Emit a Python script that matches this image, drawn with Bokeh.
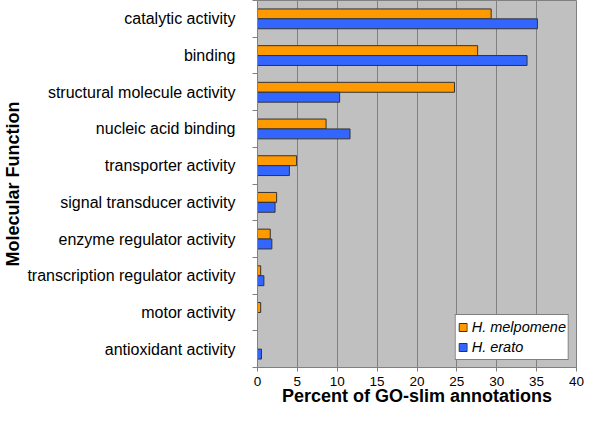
from bokeh.plotting import figure
from bokeh.models import Range1d, FixedTicker, ColumnDataSource, Legend, LegendItem
from bokeh.transform import dodge
from bokeh.embed import file_html
from bokeh.resources import INLINE

categories = [
    "catalytic activity",
    "binding",
    "structural molecule activity",
    "nucleic acid binding",
    "transporter activity",
    "signal transducer activity",
    "enzyme regulator activity",
    "transcription regulator activity",
    "motor activity",
    "antioxidant activity",
]
melpomene = [29.3, 27.6, 24.7, 8.6, 4.9, 2.4, 1.6, 0.4, 0.4, 0.0]
erato = [35.1, 33.8, 10.3, 11.6, 4.0, 2.2, 1.8, 0.8, 0.0, 0.5]
x_ticks = [0, 5, 10, 15, 20, 25, 30, 35, 40]
series_names = ["H. melpomene", "H. erato"]
series_colors = ["#FF9900", "#3366FF"]
x_title = "Percent of GO-slim annotations"
y_title = "Molecular Function"

FONT = "Liberation Sans"
n = len(categories)
pos = [i + 0.5 for i in range(n)]

src = ColumnDataSource(dict(pos=pos, cat=categories, mel=melpomene, era=erato))

p = figure(width=584, height=409,
           x_range=Range1d(0, 40), y_range=Range1d(n, 0),
           output_backend="svg", toolbar_location=None,
           min_border_left=249, min_border_right=8,
           min_border_top=0, min_border_bottom=42)

p.background_fill_color = "#C0C0C0"
p.border_fill_color = "white"
p.outline_line_color = "#808080"

bar_h = 0.27
r1 = p.hbar(y=dodge("pos", -bar_h / 2, range=p.y_range), right="mel", left=0, height=bar_h,
            source=src, fill_color=series_colors[0], line_color="#333333", line_width=1)
r2 = p.hbar(y=dodge("pos", bar_h / 2, range=p.y_range), right="era", left=0, height=bar_h,
            source=src, fill_color=series_colors[1], line_color="#333333", line_width=1)

# x axis
xa = p.xaxis[0]
xa.ticker = FixedTicker(ticks=x_ticks)
xa.axis_line_color = "#808080"
xa.major_tick_line_color = "#808080"
xa.major_tick_out = 4
xa.major_tick_in = 0
xa.minor_tick_line_color = None
xa.major_label_text_font = FONT
xa.major_label_text_font_size = "13.5px"
xa.major_label_text_color = "black"
xa.major_label_standoff = 5
xa.axis_label = x_title
xa.axis_label_text_font = FONT
xa.axis_label_text_font_size = "18px"
xa.axis_label_text_font_style = "bold"
xa.axis_label_text_color = "black"
xa.axis_label_standoff = -3

# y axis
ya = p.yaxis[0]
ya.ticker = FixedTicker(ticks=pos, minor_ticks=list(range(n + 1)))
ya.major_label_overrides = {pv: c for pv, c in zip(pos, categories)}
ya.axis_line_color = "#808080"
ya.major_tick_line_color = None
ya.major_tick_out = 0
ya.major_tick_in = 0
ya.minor_tick_line_color = "#808080"
ya.minor_tick_out = 5
ya.minor_tick_in = 0
ya.major_label_text_font = FONT
ya.major_label_text_font_size = "16px"
ya.major_label_text_color = "black"
ya.major_label_standoff = 17
ya.axis_label = y_title
ya.axis_label_text_font = FONT
ya.axis_label_text_font_size = "18px"
ya.axis_label_text_font_style = "bold"
ya.axis_label_text_color = "black"
ya.axis_label_standoff = 1

p.xgrid.grid_line_color = "#808080"
p.ygrid.grid_line_color = None

legend = Legend(items=[LegendItem(label=series_names[0], renderers=[r1]),
                       LegendItem(label=series_names[1], renderers=[r2])],
                location="bottom_right")
legend.label_text_font = FONT
legend.label_text_font_size = "14.5px"
legend.label_text_font_style = "italic"
legend.label_text_color = "black"
legend.glyph_width = 10
legend.glyph_height = 10
legend.label_standoff = 4
legend.label_height = 20
legend.spacing = 0
legend.padding = 2
legend.margin = 7
legend.border_line_color = "black"
legend.border_line_width = 1
legend.background_fill_color = "white"
legend.background_fill_alpha = 1.0
p.add_layout(legend, "center")

open("out.html", "w").write(file_html(p, INLINE))
